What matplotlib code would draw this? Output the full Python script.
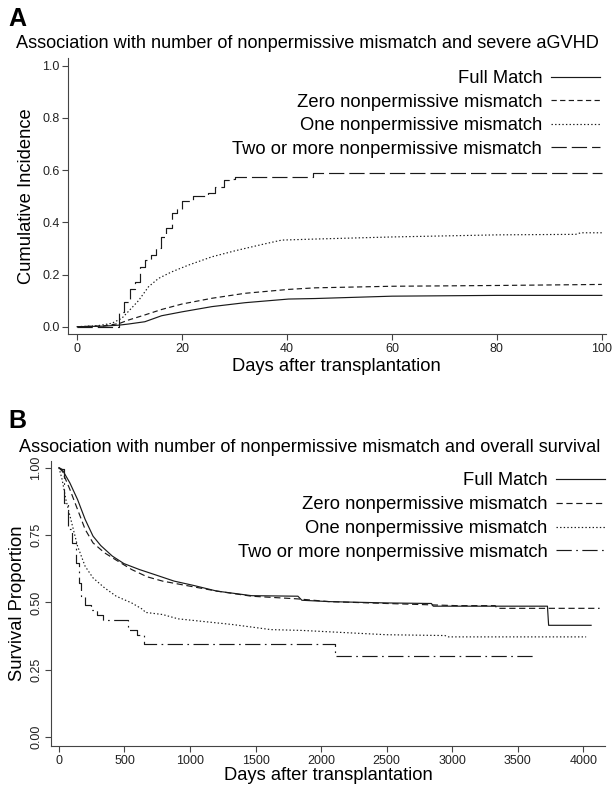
import matplotlib
matplotlib.use("Agg")
import matplotlib.pyplot as plt

plt.rcParams['font.family'] = ['Liberation Sans', 'DejaVu Sans']
plt.rcParams['lines.scale_dashes'] = False

# ---- panel A: cumulative incidence of severe aGVHD ----
a_days_full = [0, 5, 8, 9.7, 12.9, 16.1, 20, 25.7, 32, 40.3, 45.4, 60, 80, 100]
a_full = [0, 0.002, 0.006, 0.01, 0.019, 0.042, 0.057, 0.077, 0.092, 0.106, 0.108, 0.117, 0.12, 0.12]

a_days_zero = [0, 5, 8, 9.7, 12.9, 16.1, 20, 25.7, 32, 40.3, 45.4, 60, 80, 100]
a_zero = [0, 0.003, 0.012, 0.025, 0.045, 0.066, 0.087, 0.109, 0.128, 0.143, 0.149, 0.155, 0.158, 0.162]

a_days_one = [0, 4, 6.6, 8.5, 9.7, 11.7, 13.6, 15.5, 18, 21.2, 25.7, 30.1, 35.2, 39, 45.4, 60, 80, 95, 96, 100]
a_one = [0, 0.004, 0.013, 0.032, 0.057, 0.10, 0.153, 0.185, 0.21, 0.236, 0.268, 0.291, 0.315, 0.332, 0.336,
         0.344, 0.352, 0.354, 0.36, 0.36]

a_days_two = [0, 8, 9, 10, 11, 12, 13, 14, 15, 16, 17, 18, 19, 20, 22, 25, 26.3, 28, 29, 30, 45, 100]
a_two = [0, 0.057, 0.096, 0.143, 0.172, 0.227, 0.255, 0.275, 0.30, 0.345, 0.377, 0.434, 0.453, 0.483,
         0.50, 0.511, 0.534, 0.562, 0.568, 0.575, 0.59, 0.59]

# ---- panel B: overall survival ----
b_days_full = [0, 24, 83, 142, 200, 260, 319, 407, 496, 614, 732, 879, 1027, 1204, 1469, 1823, 1853,
               2059, 2501, 2841, 2855, 3726, 3735, 4059]
b_full = [1.0, 0.994, 0.944, 0.882, 0.808, 0.746, 0.711, 0.672, 0.644, 0.622, 0.603, 0.579, 0.563, 0.542,
          0.525, 0.523, 0.508, 0.503, 0.498, 0.496, 0.486, 0.486, 0.415, 0.415]

b_days_zero = [0, 24, 83, 142, 200, 260, 348, 437, 555, 673, 791, 968, 1204, 1469, 1823, 2059, 2501,
               3032, 3327, 3342, 4124]
b_zero = [1.0, 0.988, 0.92, 0.845, 0.771, 0.721, 0.684, 0.657, 0.622, 0.595, 0.579, 0.563, 0.542, 0.523,
          0.513, 0.503, 0.496, 0.488, 0.488, 0.478, 0.478]

b_days_one = [0, 24, 53, 97, 142, 200, 260, 348, 437, 555, 643, 658, 791, 909, 1086, 1322, 1617, 1853,
              2501, 2944, 2973, 4021]
b_one = [1.0, 0.957, 0.882, 0.796, 0.709, 0.634, 0.591, 0.554, 0.523, 0.498, 0.473, 0.463, 0.455, 0.439,
         0.43, 0.418, 0.399, 0.396, 0.38, 0.377, 0.372, 0.372]

b_days_two = [0, 9, 38, 68, 97, 127, 156, 171, 200, 245, 289, 333, 525, 599, 649, 2103, 3617]
b_two = [1.0, 0.994, 0.87, 0.771, 0.721, 0.647, 0.572, 0.523, 0.492, 0.473, 0.455, 0.436, 0.399, 0.38,
         0.347, 0.30, 0.30]

labels = ['Full Match', 'Zero nonpermissive mismatch', 'One nonpermissive mismatch',
          'Two or more nonpermissive mismatch']

a_ticks_x = [0, 20, 40, 60, 80, 100]
a_ticks_y = [0.0, 0.2, 0.4, 0.6, 0.8, 1.0]
b_ticks_x = [0, 500, 1000, 1500, 2000, 2500, 3000, 3500, 4000]
b_ticks_y = [0.0, 0.25, 0.5, 0.75, 1.0]

W, H = 613, 785
fig = plt.figure(figsize=(W / 100, H / 100), dpi=100)
ink = '#1a1a1a'
lw = 0.85
big = 13.2


def box(l, t, r, b):
    return [l / W, 1 - b / H, (r - l) / W, (b - t) / H]


def style(ax):
    for s in ['top', 'right']:
        ax.spines[s].set_visible(False)
    for s in ['left', 'bottom']:
        ax.spines[s].set_color('#444444')
        ax.spines[s].set_linewidth(0.8)
    ax.tick_params(length=4.3, width=0.8, color='#444444', labelsize=9, labelcolor='#222222')


# panel A
axA = fig.add_axes(box(67.7, 58, 606, 334))
axA.plot(a_days_full, a_full, color=ink, lw=lw, ls='-', label=labels[0])
axA.plot(a_days_zero, a_zero, color=ink, lw=lw, ls=(0, (3.8, 2.4)), label=labels[1])
axA.plot(a_days_one, a_one, color=ink, lw=lw, ls=(0, (1.0, 1.6)), label=labels[2])
axA.step(a_days_two, a_two, where='post', color=ink, lw=lw, ls=(0, (11, 3.6)), label=labels[3])
axA.set_xlim(-1.8, 100.8)
axA.set_ylim(-0.028, 1.03)
axA.set_xticks(a_ticks_x)
axA.set_yticks(a_ticks_y)
axA.set_yticklabels(['%.1f' % v for v in a_ticks_y])
style(axA)
axA.tick_params(axis='x', pad=2)
axA.tick_params(axis='y', pad=1.5)
axA.set_xlabel('Days after transplantation', fontsize=big, labelpad=2)
axA.set_ylabel('Cumulative Incidence', fontsize=big, labelpad=5)
axA.legend(loc='upper right', bbox_to_anchor=(600 / W, 1 - 70 / H), bbox_transform=fig.transFigure,
           frameon=False, markerfirst=False, fontsize=big, handlelength=2.7, handletextpad=0.45,
           labelspacing=0.36, borderpad=0, borderaxespad=0)

# panel B
axB = fig.add_axes(box(50.8, 460.7, 605, 746))
axB.plot(b_days_full, b_full, color=ink, lw=lw, ls='-', label=labels[0])
axB.plot(b_days_zero, b_zero, color=ink, lw=lw, ls=(0, (4.5, 2.6)), label=labels[1])
axB.plot(b_days_one, b_one, color=ink, lw=lw, ls=(0, (1.0, 1.6)), label=labels[2])
axB.step(b_days_two, b_two, where='post', color=ink, lw=lw, ls=(0, (11, 3.2, 1.2, 3.2)), label=labels[3])
axB.set_xlim(-62, 4165)
axB.set_ylim(-0.033, 1.026)
axB.set_xticks(b_ticks_x)
axB.set_yticks(b_ticks_y)
axB.set_yticklabels(['%.2f' % v for v in b_ticks_y], rotation=90, va='center')
style(axB)
axB.tick_params(axis='x', pad=2)
axB.tick_params(axis='y', pad=2)
axB.set_xlabel('Days after transplantation', fontsize=big, labelpad=0)
axB.set_ylabel('Survival Proportion', fontsize=big, labelpad=3)
axB.legend(loc='upper right', bbox_to_anchor=(605 / W, 1 - 472 / H), bbox_transform=fig.transFigure,
           frameon=False, markerfirst=False, fontsize=big, handlelength=2.7, handletextpad=0.45,
           labelspacing=0.38, borderpad=0, borderaxespad=0)

# titles and panel letters
fig.text(307.5 / W, 1 - 44 / H, 'Association with number of nonpermissive mismatch and severe aGVHD',
         ha='center', va='center', fontsize=13.1)
fig.text(310 / W, 1 - 448 / H, 'Association with number of nonpermissive mismatch and overall survival',
         ha='center', va='center', fontsize=13.1)
fig.text(8 / W, 1 - 19 / H, 'A', ha='left', va='center', fontsize=18, fontweight='bold')
fig.text(8 / W, 1 - 421 / H, 'B', ha='left', va='center', fontsize=18, fontweight='bold')

fig.savefig('out.png', dpi=100)
